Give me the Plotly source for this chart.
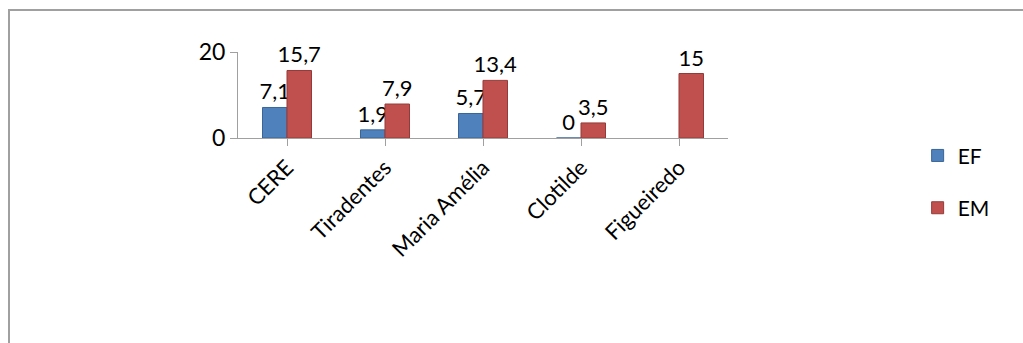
import plotly.graph_objects as go

categories = ["CERE", "Tiradentes", "Maria Amélia", "Clotilde", "Figueiredo"]
ef_values = [7.1, 1.9, 5.7, 0, None]
em_values = [15.7, 7.9, 13.4, 3.5, 15]
y_ticks = [0, 20]

W, H = 1023, 343
L, R, T, B = 238, 295, 52, 205
pw, ph = W - L - R, H - T - B

def fmt(v):
    return "" if v is None else f"{v:g}".replace(".", ",")

fig = go.Figure()
fig.add_trace(go.Bar(
    x=categories, y=ef_values, name="EF", legendgroup="ef",
    marker=dict(color="#4F81BD", line=dict(color="#3A6595", width=1)),
    text=[fmt(v) for v in ef_values], textposition="outside",
    constraintext="none",
    textfont=dict(size=22, color="black"), cliponaxis=False,
))
fig.add_trace(go.Bar(
    x=categories, y=em_values, name="EM", legendgroup="em",
    marker=dict(color="#C0504D", line=dict(color="#943B39", width=1)),
    text=[fmt(v) for v in em_values], textposition="outside",
    constraintext="none",
    textfont=dict(size=22, color="black"), cliponaxis=False,
))

def px_x(p):
    return (p - L) / pw

def px_y(p):
    return (H - B - p) / ph

fig.add_shape(type="rect", xref="paper", yref="paper",
              x0=px_x(9), x1=px_x(1040), y0=px_y(10), y1=px_y(360),
              line=dict(color="#A0A0A0", width=2), layer="below")

fig.update_layout(
    width=W, height=H,
    margin=dict(l=L, r=R, t=T, b=B, autoexpand=False),
    paper_bgcolor="white", plot_bgcolor="white",
    font=dict(family="Lato, Open Sans, sans-serif", size=22, color="black"),
    barmode="group", bargap=0.5, bargroupgap=0.0,
    showlegend=True,
    legend=dict(xref="container", yref="container", x=0.897, y=0.47,
                xanchor="left", yanchor="middle", tracegroupgap=22,
                font=dict(size=21), bgcolor="rgba(0,0,0,0)"),
    xaxis=dict(tickangle=-45, showline=True, linecolor="#A0A0A0", linewidth=1,
               ticks="outside", tickcolor="#A0A0A0", ticklen=7,
               tickfont=dict(size=22)),
    yaxis=dict(range=[0, 20], tickvals=y_ticks, showgrid=True,
               gridcolor="#C8C8C8", showline=True, linecolor="#A0A0A0",
               ticks="outside", tickcolor="#A0A0A0", ticklen=7,
               tickfont=dict(size=23), zeroline=False),
)

fig.write_html("out.html")
